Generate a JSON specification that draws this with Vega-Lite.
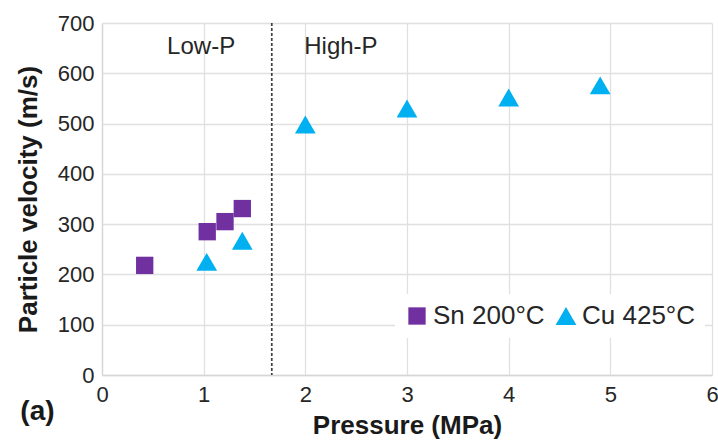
{
  "$schema": "https://vega.github.io/schema/vega-lite/v6.json",
  "autosize": {"type": "none"},
  "width": 610,
  "height": 352,
  "padding": {"left": 102, "top": 23, "right": 6, "bottom": 66},
  "background": "white",
  "config": {
    "font": "Liberation Sans",
    "view": {"stroke": null},
    "axis": {"gridColor": "#e0e0e0", "gridWidth": 1.3, "domainColor": "#d6d6d6", "domainWidth": 1.3, "ticks": false, "labelFont": "Liberation Sans", "labelFontSize": 22, "labelColor": "#262626", "titleFont": "Liberation Sans", "titleFontSize": 26, "titleFontWeight": "bold", "titleColor": "#1a1a1a"}
  },
  "datasets": {
    "pts": [
      {"series": "Sn 200°C", "pressure": 0.42, "velocity": 218},
      {"series": "Sn 200°C", "pressure": 1.035, "velocity": 285},
      {"series": "Sn 200°C", "pressure": 1.21, "velocity": 305},
      {"series": "Sn 200°C", "pressure": 1.38, "velocity": 331},
      {"series": "Cu 425°C", "pressure": 1.03, "velocity": 225},
      {"series": "Cu 425°C", "pressure": 1.38, "velocity": 267},
      {"series": "Cu 425°C", "pressure": 2.0, "velocity": 498},
      {"series": "Cu 425°C", "pressure": 3.0, "velocity": 530},
      {"series": "Cu 425°C", "pressure": 4.0, "velocity": 552},
      {"series": "Cu 425°C", "pressure": 4.9, "velocity": 576}
    ],
    "labels": [
      {"label": "Low-P", "px": 0.975, "py": 652},
      {"label": "High-P", "px": 2.35, "py": 652}
    ],
    "divider": [{"p": 1.67}]
  },
  "layer": [
    {
      "data": {"name": "divider"},
      "mark": {"type": "rule", "color": "#404040", "strokeDash": [3, 2], "strokeWidth": 1.7},
      "encoding": {"x": {"field": "p", "type": "quantitative"}}
    },
    {
      "data": {"name": "pts"},
      "mark": {"type": "point", "filled": true, "opacity": 1},
      "encoding": {
        "x": {"field": "pressure", "type": "quantitative", "title": "Pressure (MPa)", "scale": {"domain": [0, 6], "nice": false}, "axis": {"values": [0, 1, 2, 3, 4, 5, 6], "format": "d", "labelFlush": false, "labelPadding": 9, "titlePadding": 7}},
        "y": {"field": "velocity", "type": "quantitative", "title": "Particle velocity (m/s)", "scale": {"domain": [0, 700], "nice": false}, "axis": {"values": [0, 100, 200, 300, 400, 500, 600, 700], "labelPadding": 8, "titlePadding": 16}},
        "color": {"field": "series", "type": "nominal", "scale": {"domain": ["Sn 200°C", "Cu 425°C"], "range": ["#7030a0", "#00b0f0"]}, "legend": {"title": null, "orient": "none", "legendX": 293, "legendY": 271, "direction": "horizontal", "fillColor": "white", "padding": 9, "labelFontSize": 26, "labelFont": "Liberation Sans", "labelColor": "#262626", "symbolSize": 256, "symbolOpacity": 1, "columnPadding": 8, "labelOffset": 3}},
        "shape": {"field": "series", "type": "nominal", "scale": {"domain": ["Sn 200°C", "Cu 425°C"], "range": ["square", "triangle-up"]}, "legend": null},
        "size": {"field": "series", "type": "nominal", "scale": {"domain": ["Sn 200°C", "Cu 425°C"], "range": [300, 430]}, "legend": null}
      }
    },
    {
      "data": {"name": "labels"},
      "mark": {"type": "text", "fontSize": 24, "font": "Liberation Sans", "color": "#262626"},
      "encoding": {
        "x": {"field": "px", "type": "quantitative"},
        "y": {"field": "py", "type": "quantitative"},
        "text": {"field": "label"}
      }
    },
    {
      "data": {"values": [{"t": "(a)", "px": -0.635, "py": -74}]},
      "mark": {"type": "text", "fontSize": 28, "fontWeight": "bold", "font": "Liberation Sans", "color": "#1a1a1a", "clip": false},
      "encoding": {
        "x": {"field": "px", "type": "quantitative"},
        "y": {"field": "py", "type": "quantitative"},
        "text": {"field": "t"}
      }
    }
  ]
}
